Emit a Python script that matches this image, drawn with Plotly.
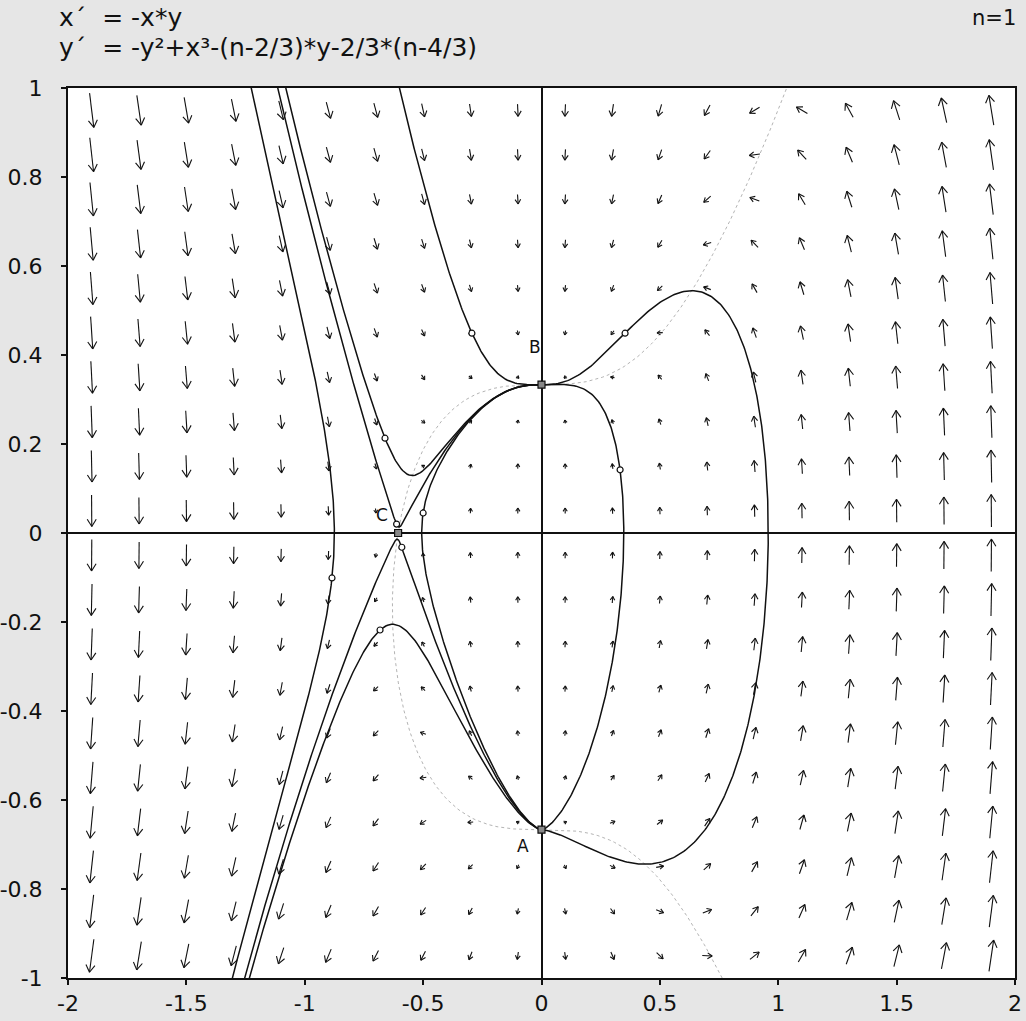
import math
import plotly.graph_objects as go

# ---------------- data ----------------
n_param = 1.0
# y' = -y^2 + x^3 - (n - c1)*y - c2*(n - c3);  x' = -x*y
c1, c2, c3 = 2 / 3, 2 / 3, 4 / 3

arrow_x = [-1.9, -1.7, -1.5, -1.3, -1.1, -0.9, -0.7, -0.5, -0.3, -0.1,
           0.1, 0.3, 0.5, 0.7, 0.9, 1.1, 1.3, 1.5, 1.7, 1.9]
arrow_y = [-0.95, -0.85, -0.75, -0.65, -0.55, -0.45, -0.35, -0.25, -0.15, -0.05,
           0.05, 0.15, 0.25, 0.35, 0.45, 0.55, 0.65, 0.75, 0.85, 0.95]

# trajectory start points (small circles in the picture)
start_x = [-0.885, -0.682, -0.661, -0.294, 0.353, 0.332, -0.500, -0.612, -0.590]
start_y = [-0.101, -0.218, 0.213, 0.449, 0.449, 0.142, 0.045, 0.020, -0.032]

point_names = ["A", "B", "C"]
point_x = [0.0, 0.0, -(2 / 9) ** (1 / 3)]
point_y = [-2 / 3, 1 / 3, 0.0]

x_ticks = [-2, -1.5, -1, -0.5, 0, 0.5, 1, 1.5, 2]
y_ticks = [-1, -0.8, -0.6, -0.4, -0.2, 0, 0.2, 0.4, 0.6, 0.8, 1]

# ---------------- layout geometry ----------------
W, H = 1026, 1021
ML, MR, MT, MB = 68, 11, 88, 43
XR, YR = (-2, 2), (-1, 1)
SX = (W - ML - MR) / (XR[1] - XR[0])   # px per x unit
SY = (H - MT - MB) / (YR[1] - YR[0])   # px per y unit


def field(x, y):
    return (-x * y,
            -y * y + x ** 3 - (n_param - c1) * y - c2 * (n_param - c3))


def unit(x, y, sgn):
    vx, vy = field(x, y)
    m = math.hypot(vx * SX, vy * SY)
    if m < 1e-12:
        return 0.0, 0.0
    return sgn * vx / m, sgn * vy / m


def integrate(x0, y0, sgn, h=1.0, nmax=9000):
    xs, ys = [x0], [y0]
    x, y = x0, y0
    for _ in range(nmax):
        k1 = unit(x, y, sgn)
        k2 = unit(x + 0.5 * h * k1[0], y + 0.5 * h * k1[1], sgn)
        k3 = unit(x + 0.5 * h * k2[0], y + 0.5 * h * k2[1], sgn)
        k4 = unit(x + h * k3[0], y + h * k3[1], sgn)
        x += h * (k1[0] + 2 * k2[0] + 2 * k3[0] + k4[0]) / 6
        y += h * (k1[1] + 2 * k2[1] + 2 * k3[1] + k4[1]) / 6
        xs.append(x)
        ys.append(y)
        if x < -2.1 or x > 2.1 or y < -1.1 or y > 1.1:
            break
        stop = False
        for fx, fy in zip(point_x[:2], point_y[:2]):
            if math.hypot((x - fx) * SX, (y - fy) * SY) < 1.2:
                xs.append(fx)
                ys.append(fy)
                stop = True
        if stop:
            break
    return xs, ys


traj_x, traj_y = [], []
for x0, y0 in zip(start_x, start_y):
    bx, by = integrate(x0, y0, -1)
    fx, fy = integrate(x0, y0, 1)
    xs = bx[::-1] + fx[1:]
    ys = by[::-1] + fy[1:]
    traj_x += xs[::2] + [xs[-1], None]
    traj_y += ys[::2] + [ys[-1], None]

# nullcline y' = 0
null_x, null_y = [], []
for i in range(401):
    y = -1 + 2 * i / 400
    v = y * y + (n_param - c1) * y + c2 * (n_param - c3)
    null_x.append(math.copysign(abs(v) ** (1 / 3), v))
    null_y.append(y)

# arrows
ax_x, ax_y = [], []
for yc in arrow_y:
    for xc in arrow_x:
        vx, vy = field(xc, yc)
        mag = math.hypot(vx, vy)
        px, py = vx * SX, vy * SY
        pm = math.hypot(px, py)
        if pm < 1e-12:
            continue
        ux, uy = px / pm, py / pm
        L = max(3.0, min(37.0, 12.2 * math.sqrt(mag)))
        sx_, sy_ = -ux * L / 2, -uy * L / 2
        ex_, ey_ = ux * L / 2, uy * L / 2
        ax_x += [xc + sx_ / SX, xc + ex_ / SX, None]
        ax_y += [yc + sy_ / SY, yc + ey_ / SY, None]
        hl = max(3.0, min(8.5, 0.35 * L + 2))
        for ang in (math.radians(32), -math.radians(32)):
            ca, sa = math.cos(ang), math.sin(ang)
            bx_ = -(ux * ca - uy * sa) * hl
            by_ = -(ux * sa + uy * ca) * hl
            ax_x += [xc + ex_ / SX, xc + (ex_ + bx_) / SX, None]
            ax_y += [yc + ey_ / SY, yc + (ey_ + by_) / SY, None]

fig = go.Figure()
fig.add_trace(go.Scatter(x=null_x, y=null_y, mode="lines",
                         line=dict(color="#b4b4b4", width=1, dash="dot"),
                         hoverinfo="skip", showlegend=False))
fig.add_trace(go.Scatter(x=ax_x, y=ax_y, mode="lines",
                         line=dict(color="#111111", width=1.1),
                         hoverinfo="skip", showlegend=False))
fig.add_trace(go.Scatter(x=traj_x, y=traj_y, mode="lines",
                         line=dict(color="#111111", width=1.5),
                         hoverinfo="skip", showlegend=False))
fig.add_trace(go.Scatter(x=start_x, y=start_y, mode="markers",
                         marker=dict(symbol="circle", size=6, color="white",
                                     line=dict(color="#111111", width=1.2)),
                         hoverinfo="skip", showlegend=False))
fig.add_trace(go.Scatter(x=point_x, y=point_y, mode="markers",
                         marker=dict(symbol="square", size=7, color="#888888",
                                     line=dict(color="#111111", width=1.2)),
                         hoverinfo="skip", showlegend=False))

label_shift = {"A": (-19, -16), "B": (-7, 38), "C": (-16, 18)}
for nm, px_, py_ in zip(point_names, point_x, point_y):
    dx, dy = label_shift[nm]
    fig.add_annotation(x=px_, y=py_, text=nm, showarrow=False,
                       xshift=dx, yshift=dy,
                       font=dict(family="DejaVu Sans", size=17, color="#111111"))

title_font = dict(family="DejaVu Sans", size=25, color="#111111")
fig.add_annotation(xref="paper", yref="paper", x=-0.012, y=1.079,
                   xanchor="left", yanchor="middle", showarrow=False,
                   text="x´  = -x*y", font=title_font)
fig.add_annotation(xref="paper", yref="paper", x=-0.012, y=1.045,
                   xanchor="left", yanchor="middle", showarrow=False,
                   text="y´  = -y²+x³-(n-2/3)*y-2/3*(n-4/3)", font=title_font)
fig.add_annotation(xref="paper", yref="paper", x=1.003, y=1.079,
                   xanchor="right", yanchor="middle", showarrow=False,
                   text="n=1", font=dict(family="DejaVu Sans", size=21, color="#111111"))

axis_common = dict(showgrid=False, showline=True, linecolor="#111111",
                   linewidth=2, mirror=True, ticks="outside", ticklen=5,
                   tickwidth=1.5, tickcolor="#111111", zeroline=True,
                   zerolinecolor="#111111", zerolinewidth=1.5, automargin=False,
                   tickfont=dict(family="DejaVu Sans", size=22, color="#111111"))
fig.update_xaxes(range=list(XR), tickvals=x_ticks,
                 ticktext=[f"{v:g}" for v in x_ticks], **axis_common)
fig.update_yaxes(range=list(YR), tickvals=y_ticks, ticklabelstandoff=14,
                 ticktext=[f"{v:g}" for v in y_ticks], **axis_common)

fig.update_layout(width=W, height=H,
                  margin=dict(l=ML, r=MR, t=MT, b=MB),
                  paper_bgcolor="#e6e6e6", plot_bgcolor="white",
                  showlegend=False)

fig.write_html("out.html", config={"displayModeBar": False},
               post_script="document.body.style.margin='0';document.body.style.overflow='hidden';")
